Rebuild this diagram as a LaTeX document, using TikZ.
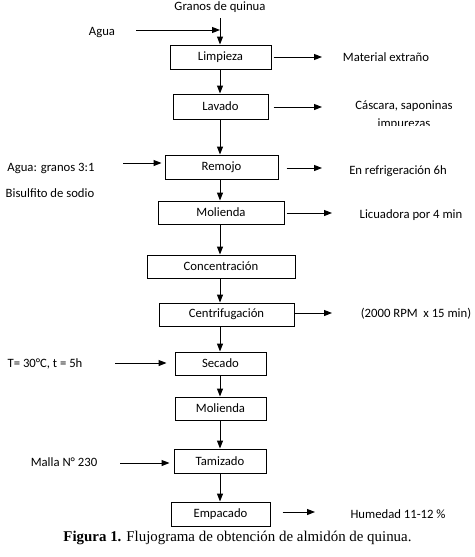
\documentclass[tikz,border=0pt]{standalone}
\usepackage{fontspec}
\setmainfont{Carlito}
\newfontfamily\capfont{Liberation Serif}
\usetikzlibrary{arrows.meta}
\begin{document}
\begin{tikzpicture}[x=1pt,y=-1pt,
  box/.style={draw,line width=1pt,inner sep=0pt,font=\fontsize{12.7}{14}\selectfont},
  lbl/.style={inner sep=0pt,font=\fontsize{12.7}{14}\selectfont},
  arr/.style={line width=1pt,-{Triangle[length=8pt,width=6pt]}},
  ln/.style={line width=1pt}]
\useasboundingbox (0,0) rectangle (474,557);
\fill[white] (0,0) rectangle (474,557);
% spine x = 220
\coordinate (sp) at (220,0);
% boxes
\node[box,minimum width=101pt,minimum height=24pt] (limp) at (220.5,57) {Limpieza};
\node[box,minimum width=95pt,minimum height=25pt] (lav) at (220.5,106.5) {Lavado};
\node[box,minimum width=113pt,minimum height=24pt] (rem) at (221.5,167) {Remojo};
\node[box,minimum width=126pt,minimum height=23pt] (mol1) at (221,212.5) {Molienda};
\node[box,minimum width=148pt,minimum height=23pt] (conc) at (221,266.5) {Concentración};
\node[box,minimum width=135pt,minimum height=23pt] (cen) at (226.5,314.5) {Centrifugación};
\node[box,minimum width=91pt,minimum height=23pt] (sec) at (220.5,363.5) {Secado};
\node[box,minimum width=91pt,minimum height=23pt] (mol2) at (220.5,408.5) {Molienda};
\node[box,minimum width=92pt,minimum height=24pt] (tam) at (220,461) {Tamizado};
\node[box,minimum width=99pt,minimum height=24pt] (emp) at (220.5,514) {Empacado};
% labels
\node[lbl] (gran) at (220,7) {Granos de quinua};
\node[lbl] (agua) at (102,33) {Agua};
\node[lbl] (mat) at (386,57) {Material extraño};
\node[lbl] (casc) at (404,106) {Cáscara, saponinas};
\begin{scope}
\clip (300,116) rectangle (474,125.5);
\node[lbl] (imp) at (404,124.5) {impurezas};
\end{scope}
\node[lbl] (aguag) at (51,168) {Agua: granos 3:1};
\node[lbl] (bis) at (50,193) {Bisulfito de sodio};
\node[lbl] (refr) at (398,171) {En refrigeración 6h};
\node[lbl] (licu) at (411,215) {Licuadora por 4 min};
\node[lbl] (rpm) at (416,314) {(2000 RPM\ \ x 15 min)};
\node[lbl] (temp) at (45,364) {T= 30°C, t = 5h};
\node[lbl] (malla) at (64,462) {Malla N° 230};
\node[lbl] (hum) at (398,514) {Humedad 11-12 \%};
\node[inner sep=0pt,font=\capfont\fontsize{14.9}{16}\selectfont] (cap) at (237.5,538)
  {\textbf{Figura 1.} Flujograma de obtención de almidón de quinua.};
% main flow
\coordinate (j) at (220,30);
\draw[ln] (220,18) -- (j);
\draw[arr] (j) -- (limp.north -| sp);
\draw[arr] (limp.south -| sp) -- (lav.north -| sp);
\draw[arr] (lav.south -| sp) -- (rem.north -| sp);
\draw[arr] (rem.south -| sp) -- (mol1.north -| sp);
\draw[arr] (mol1.south -| sp) -- (conc.north -| sp);
\draw[arr] (conc.south -| sp) -- (cen.north -| sp);
\draw[arr] (cen.south -| sp) -- (sec.north -| sp);
\draw[arr] (sec.south -| sp) -- (mol2.north -| sp);
\draw[arr] (mol2.south -| sp) -- (tam.north -| sp);
\draw[arr] (tam.south -| sp) -- (emp.north -| sp);
% side inputs
\coordinate (a1) at (136,30);
\draw[arr] (a1) -- (j);
\coordinate (a2) at (123,163);
\draw[arr,shorten >=3pt] (a2) -- (rem.west |- a2);
\coordinate (a3) at (115,363);
\draw[arr,shorten >=8pt] (a3) -- (sec.west |- a3);
\coordinate (a4) at (120,463);
\draw[arr,shorten >=4pt] (a4) -- (tam.west |- a4);
% side outputs
\coordinate (o1) at (322,57);
\draw[arr,shorten <=2pt] (limp.east |- o1) -- (o1);
\coordinate (o2) at (322,107);
\draw[arr,shorten <=5pt] (lav.east |- o2) -- (o2);
\coordinate (o3) at (322,168);
\draw[arr,shorten <=8pt] (rem.east |- o3) -- (o3);
\coordinate (o4) at (332,213);
\draw[arr,shorten <=2pt] (mol1.east |- o4) -- (o4);
\coordinate (o5) at (332,313);
\draw[arr] (cen.east |- o5) -- (o5);
\coordinate (o6) at (315,512);
\draw[arr,shorten <=12pt] (emp.east |- o6) -- (o6);
\end{tikzpicture}
\end{document}
